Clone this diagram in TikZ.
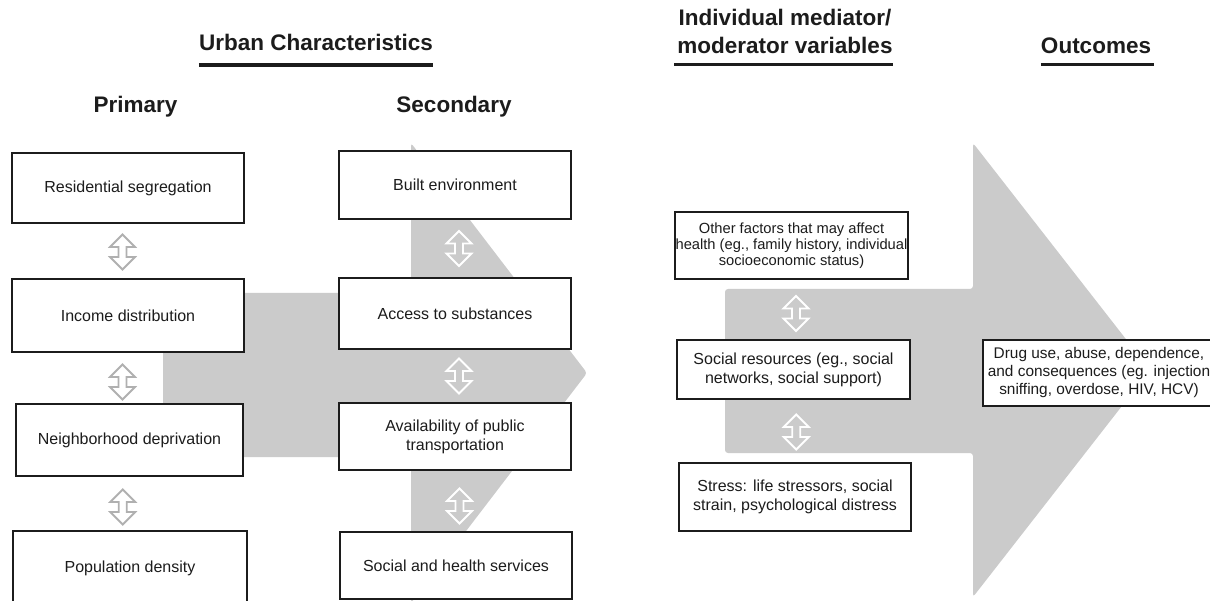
\documentclass[tikz,border=0pt]{standalone}
\usepackage{fontspec}
\setmainfont{Liberation Sans}
\usetikzlibrary{calc}
\definecolor{flow}{RGB}{203,203,203}
\definecolor{ink}{RGB}{28,28,28}
\definecolor{twowayline}{RGB}{176,176,176}
\tikzset{
  pics/twoway/.style={code={
    \draw[#1] (0,-17.5) -- (12.5,-5) -- (4,-5) -- (4,5) -- (12.5,5) -- (0,17.5)
      -- (-12.5,5) -- (-4,5) -- (-4,-5) -- (-12.5,-5) -- cycle;}},
  onwhite/.style={draw=twowayline, line width=1.8pt, line join=miter},
  ongrey/.style={draw=white, line width=1.8pt, line join=miter},
}
\begin{document}
\begin{tikzpicture}[x=1pt,y=-1pt,
  box/.style={draw=ink, line width=2pt, fill=white, align=center, inner sep=0pt,
    text=ink, font=\fontsize{16}{19}\selectfont},
  smallbox/.style={box, font=\fontsize{14.7}{15.7}\selectfont},
  outbox/.style={box, font=\fontsize{15.4}{18}\selectfont},
  head/.style={font=\fontsize{22.5}{28}\selectfont\bfseries, align=center,
    inner sep=0pt, text=ink},
  rule/.style={draw=ink, line width=3.2pt},
  flowarrow/.style={fill=flow, rounded corners=3pt},
]
\useasboundingbox (0,0) rectangle (1210,601);

% broad grey flow arrows behind the boxes
\path[flowarrow] (163,293) -- (411,293) -- (411,143) -- (587,373)
  -- (411,603) -- (411,457) -- (163,457) -- cycle;
\path[flowarrow] (725,289) -- (973,289) -- (973,143) -- (1150,370)
  -- (973,597) -- (973,453) -- (725,453) -- cycle;

% column headings
\node[head, anchor=base] (uc) at (316,51) {Urban Characteristics};
\draw[rule] (uc.west |- 0,65) -- (uc.east |- 0,65);
\node[head, anchor=base] (pri) at (135.5,113) {Primary};
\node[head, anchor=base] (sec) at (454,113) {Secondary};
\node[head] (im) at (785,31) {Individual mediator/\\moderator variables};
\draw[rule] ($(im.west |- 0,64.5)+(-3,0)$) -- (im.east |- 0,64.5);
\node[head, anchor=base] (oc) at (1096,54) {Outcomes};
\draw[rule] (oc.west |- 0,64.5) -- ($(oc.east |- 0,64.5)+(3,0)$);

% primary characteristics
\node[box, minimum width=232, minimum height=70] (res) at (128,188) {Residential segregation};
\node[box, minimum width=232, minimum height=73] (inc) at (128,315.5) {Income distribution};
\node[box, minimum width=227, minimum height=72] (nbh) at (129.5,440) {Neighborhood deprivation};
\node[box, minimum width=234, minimum height=74] (pop) at (130,568) {Population density};

% secondary characteristics
\node[box, minimum width=232, minimum height=68] (blt) at (455,185) {Built environment};
\node[box, minimum width=232, minimum height=71] (acc) at (455,313.5) {Access to substances};
\node[box, minimum width=232, minimum height=67] (avl) at (455,436.5) {Availability of public\\transportation};
\node[box, minimum width=232, minimum height=67] (svc) at (456,565.5) {Social and health services};

% individual mediators and moderators
\node[smallbox, minimum width=233, minimum height=67] (oth) at (791.5,245.5)
  {Other factors that may affect\\health (eg., family history, individual\\socioeconomic status)};
\node[box, minimum width=233, minimum height=59] (soc) at (793.5,369.5)
  {Social resources (eg., social\\networks, social support)};
\node[box, minimum width=232, minimum height=68] (str) at (795,497)
  {Stress: life stressors, social\\strain, psychological distress};

% outcomes
\node[outbox, minimum width=232, minimum height=65] (out) at (1099,373)
  {Drug use, abuse, dependence,\\and consequences (eg. injection\\sniffing, overdose, HIV, HCV)};

% two-way links between neighbouring boxes
\pic (p1) at ($(res.south)!0.5!(inc.north)+(-5.5,1)$) {twoway=onwhite};
\pic (p2) at ($(inc.south)!0.5!(nbh.north)+(-6.25,4)$) {twoway=onwhite};
\pic (p3) at ($(nbh.south)!0.5!(pop.north)+(-7,3.5)$) {twoway=onwhite};
\pic (s1) at ($(blt.south)!0.5!(acc.north)+(4,0)$) {twoway=ongrey};
\pic (s2) at ($(acc.south)!0.5!(avl.north)+(4,0)$) {twoway=ongrey};
\pic (s3) at ($(avl.south)!0.5!(svc.north)+(4,5)$) {twoway=ongrey};
\pic (m1) at ($(oth.south)!0.5!(soc.north)+(3.5,4)$) {twoway=ongrey};
\pic (m2) at ($(soc.south)!0.5!(str.north)+(2,1)$) {twoway=ongrey};
\end{tikzpicture}
\end{document}
